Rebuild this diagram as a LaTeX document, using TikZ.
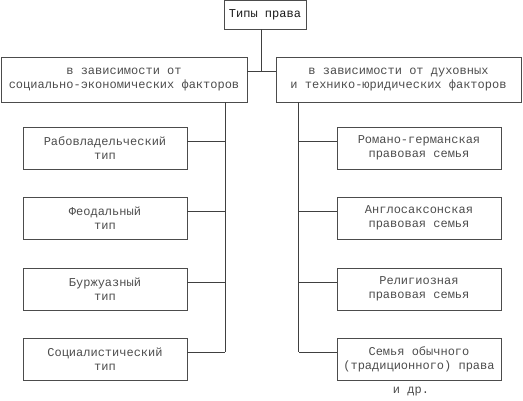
\documentclass[tikz,border=0pt]{standalone}
\usepackage{fontspec}
\setmonofont{Liberation Mono}
\begin{document}
\begin{tikzpicture}[x=1pt, y=-1pt,
  box/.style={draw=black!70, line width=0.8pt, align=center, inner sep=0pt,
    text=black!70, font=\ttfamily\fontsize{12}{14}\selectfont},
  link/.style={draw=black!75, line width=0.8pt}]
\useasboundingbox (0,0) rectangle (523,400);
\node[box, text=black!90, minimum width=82, minimum height=29] (types) at (265,14.5) {Типы права};
\node[box, minimum width=246, minimum height=45] (soc) at (124,79.5) {в зависимости от\\социально-экономических факторов};
\node[box, minimum width=245, minimum height=45] (spirit) at (398.5,79.5) {в зависимости от духовных\\и технико-юридических факторов};
\coordinate (j) at (261.5,71);
\draw[link] (types.south -| j) -- (j);
\draw[link] (soc.east |- j) -- (spirit.west |- j);
\coordinate (lx) at (225,352);
\coordinate (rx) at (298.5,352);
\draw[link] (soc.south -| lx) -- (lx);
\draw[link] (spirit.south -| rx) -- (rx);
\foreach \y/\name/\txt in {148/a/{Рабовладельческий\\тип}, 218/b/{Феодальный\\тип},
  289/c/{Буржуазный\\тип}, 359/d/{Социалистический\\тип}} {
  \node[box, minimum width=164, minimum height=42] (\name) at (105,\y) {\txt};
  \draw[link] ([yshift=7pt]\name.east) -- ([yshift=7pt]\name.east -| lx);
}
\foreach \y/\name/\txt in {148/e/{Романо-германская\\правовая семья}, 218/f/{Англосаксонская\\правовая семья},
  289/g/{Религиозная\\правовая семья}, 359/h/{Семья обычного\\(традиционного) права}} {
  \node[box, minimum width=164, minimum height=42] (\name) at (419,\y) {\txt};
  \draw[link] ([yshift=7pt]\name.west) -- ([yshift=7pt]\name.west -| rx);
}
\node[box, draw=none] (etc) at (411,392) {и др.};
\end{tikzpicture}
\end{document}
